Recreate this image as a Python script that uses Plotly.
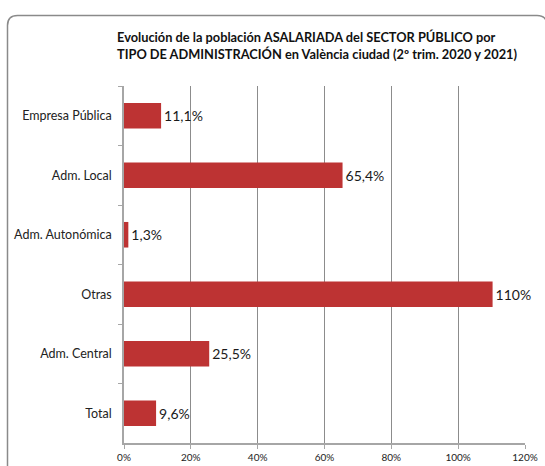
import plotly.graph_objects as go

categories = ["Empresa Pública", "Adm. Local", "Adm. Autonómica", "Otras", "Adm. Central", "Total"]
values = [11.1, 65.4, 1.3, 110.3, 25.5, 9.6]
value_labels = ["11,1%", "65,4%", "1,3%", "110%", "25,5%", "9,6%"]
x_ticks = [0, 20, 40, 60, 80, 100, 120]
x_tick_labels = ["0%", "20%", "40%", "60%", "80%", "100%", "120%"]

title_text = ("Evolución de la población ASALARIADA del SECTOR PÚBLICO por<br>"
              "TIPO DE ADMINISTRACIÓN en València ciudad (2º trim. 2020 y 2021)")

W, H = 545, 466
ml, mr, mt, mb = 124, 20, 86, 23
pw, ph = W - ml - mr, H - mt - mb

def px(x):
    return (x - ml) / pw

def py(y):
    return 1 - (y - mt) / ph

fig = go.Figure(go.Bar(
    y=categories, x=values, orientation="h",
    marker=dict(color="#bd3333", line=dict(width=0)),
    width=0.43,
    text=value_labels, textposition="outside",
    textfont=dict(family="Lato", size=14, color="#1a1a1a"),
    cliponaxis=False,
))

# rounded frame
x0, y0, r = px(7.5), py(15.5), 10
fy1 = py(480)
path = (f"M {x0},{fy1} L {x0},{py(15.5 + r)} "
        f"Q {x0},{y0} {px(7.5 + r)},{y0} L {px(537)},{y0} "
        f"Q {px(547)},{y0} {px(547)},{py(15.5 + r)} L {px(547)},{fy1}")
fig.add_shape(type="path", path=path, xref="paper", yref="paper",
              line=dict(color="#8a8a8a", width=1.5), layer="below")

fig.add_annotation(text=title_text, xref="paper", yref="paper",
                   x=px(115), y=py(46), xanchor="left", yanchor="middle",
                   align="left", showarrow=False,
                   font=dict(family="Lato", size=12.8, color="#111111", weight="bold"))

fig.update_layout(
    width=W, height=H,
    margin=dict(l=ml, r=mr, t=mt, b=mb, autoexpand=False),
    paper_bgcolor="white", plot_bgcolor="white",
    showlegend=False,
    font=dict(family="Lato", size=11, color="#222222"),
)
fig.update_xaxes(
    range=[0, 120], tickvals=x_ticks, ticktext=x_tick_labels,
    showgrid=True, gridcolor="#8c8c8c", gridwidth=1,
    showline=True, linecolor="#a6a6a6", linewidth=1.5,
    ticks="outside", ticklen=4, tickcolor="#a6a6a6",
    tickfont=dict(family="Lato", size=10, color="#222222"),
    zeroline=False, fixedrange=True, automargin=False,
)
fig.update_yaxes(
    autorange="reversed", type="category",
    showline=True, linecolor="#a6a6a6", linewidth=1.5,
    ticks="outside", ticklen=4, tickcolor="#a6a6a6", tickson="boundaries",
    tickfont=dict(family="Lato", size=12.5, color="#222222"),
    ticklabelstandoff=8,
    showgrid=False, fixedrange=True, automargin=False,
)

fig.write_html("out.html", config={"displayModeBar": False},
               post_script="document.body.style.margin='0';document.body.style.overflow='hidden';")
